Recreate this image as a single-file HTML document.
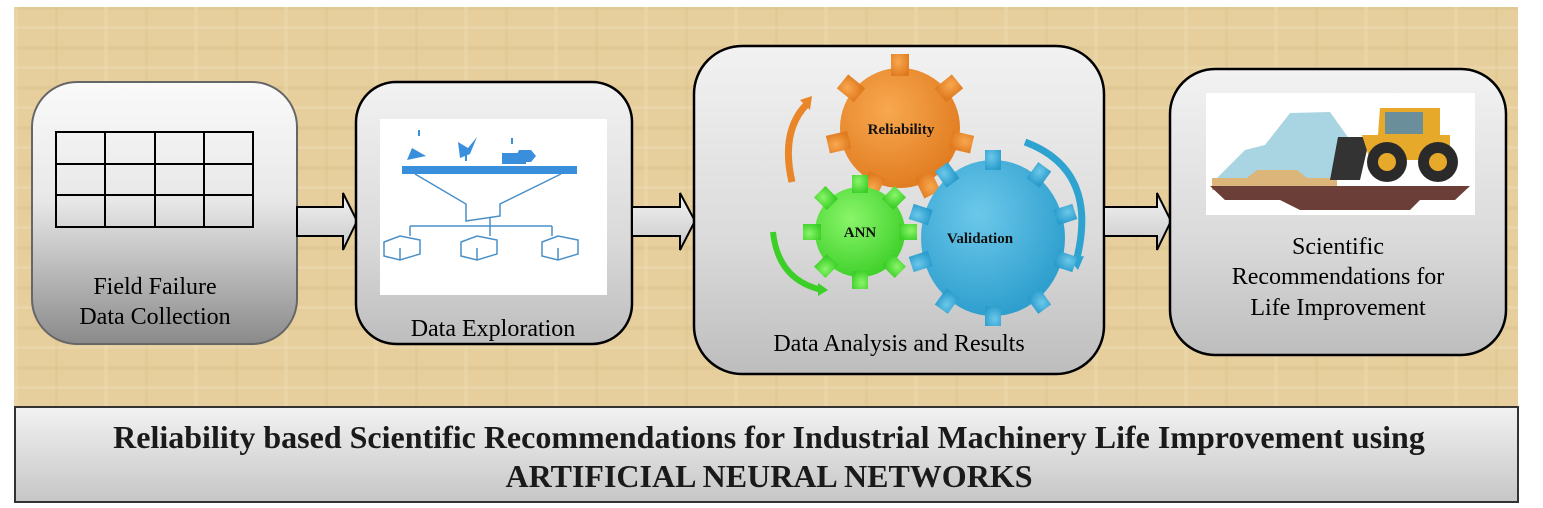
<!DOCTYPE html>
<html><head><meta charset="utf-8"><style>
body{margin:0;width:1543px;height:503px;background:#fff;overflow:hidden;font-family:"Liberation Serif",serif}
</style></head><body>
<svg width="1543" height="503" viewBox="0 0 1543 503" xmlns="http://www.w3.org/2000/svg">
<defs>
<linearGradient id="box1" x1="0" y1="0" x2="0" y2="1"><stop offset="0" stop-color="#fafafa"/><stop offset="0.45" stop-color="#e8e8e8"/><stop offset="1" stop-color="#8a8a8a"/></linearGradient>
<linearGradient id="box" x1="0" y1="0" x2="0" y2="1"><stop offset="0" stop-color="#f2f2f2"/><stop offset="0.6" stop-color="#dadada"/><stop offset="1" stop-color="#bdbdbd"/></linearGradient>
<linearGradient id="arr" x1="0" y1="0" x2="0" y2="1"><stop offset="0" stop-color="#f4f4f4"/><stop offset="1" stop-color="#c8c8c8"/></linearGradient>
<linearGradient id="ban" x1="0" y1="0" x2="0" y2="1"><stop offset="0" stop-color="#f2f2f2"/><stop offset="1" stop-color="#c6c6c6"/></linearGradient>
<pattern id="tex" width="90" height="40" patternUnits="userSpaceOnUse">
<rect width="90" height="40" fill="#e6cf9c"/>
<rect x="0" y="6" width="90" height="4" fill="#dcc48e" opacity="0.5"/>
<rect x="14" y="0" width="4" height="40" fill="#eddbb2" opacity="0.4"/>
<rect x="55" y="0" width="3" height="40" fill="#d9bf86" opacity="0.35"/>
<rect x="0" y="26" width="90" height="3" fill="#efdfba" opacity="0.4"/>
</pattern>
<radialGradient id="og" cx="0.4" cy="0.35" r="0.7"><stop offset="0" stop-color="#f8a850"/><stop offset="1" stop-color="#e07a1e"/></radialGradient>
<radialGradient id="gg" cx="0.4" cy="0.35" r="0.7"><stop offset="0" stop-color="#8af56a"/><stop offset="1" stop-color="#3ccf28"/></radialGradient>
<radialGradient id="bg" cx="0.4" cy="0.35" r="0.7"><stop offset="0" stop-color="#6cc8ea"/><stop offset="1" stop-color="#2a9ccc"/></radialGradient>
</defs>
<rect x="14" y="7" width="1504" height="400" fill="url(#tex)"/>

<!-- Box 1 -->
<rect x="32" y="82" width="265" height="262" rx="45" fill="url(#box1)" stroke="#666" stroke-width="2"/>
<g stroke="#000" stroke-width="2" fill="none">
<rect x="56" y="132" width="197" height="95"/>
<line x1="56" y1="164" x2="253" y2="164"/><line x1="56" y1="195" x2="253" y2="195"/>
<line x1="105" y1="132" x2="105" y2="227"/><line x1="155" y1="132" x2="155" y2="227"/><line x1="204" y1="132" x2="204" y2="227"/>
</g>
<text x="155" y="294" font-size="24" text-anchor="middle">Field Failure</text>
<text x="155" y="324" font-size="24" text-anchor="middle">Data Collection</text>

<!-- Arrow 1 -->
<path d="M297 207 H343 V193 L357 221 L343 250 V236 H297 Z" fill="url(#arr)" stroke="#000" stroke-width="2"/>

<!-- Box 2 -->
<rect x="356" y="82" width="276" height="262" rx="40" fill="url(#box)" stroke="#000" stroke-width="2.5"/>
<rect x="380" y="119" width="227" height="176" fill="#fff"/>
<g fill="#3a8fdc">
<path d="M407 160 L412 148 L426 156 Z"/><path d="M458 142 L468 148 L477 137 L470 154 L460 158 Z"/>
<rect x="502" y="153" width="24" height="11"/><path d="M519 150 h12 l5 6 l-5 6 h-12 l-3 -6 z"/>
<rect x="402" y="166" width="175" height="8"/>
<rect x="418" y="130" width="2" height="6"/><rect x="465" y="155" width="2" height="6"/><rect x="511" y="138" width="2" height="6"/>
</g>
<g stroke="#4a90c8" stroke-width="1.5" fill="none">
<path d="M415 174 L466 204 L466 221 L500 216 L500 204 L561 174"/>
<line x1="490" y1="218" x2="490" y2="226"/><path d="M410 226 H552 M410 226 V236 M490 226 V236 M552 226 V236"/>
<path d="M384 242 l16 -6 l20 4 v14 l-20 6 l-16 -4 z M400 248 v12"/>
<path d="M461 242 l16 -6 l20 4 v14 l-20 6 l-16 -4 z M477 248 v12"/>
<path d="M542 242 l16 -6 l20 4 v14 l-20 6 l-16 -4 z M558 248 v12"/>
</g>
<text x="493" y="336" font-size="24" text-anchor="middle">Data Exploration</text>

<!-- Arrow 2 -->
<path d="M632 207 H680 V193 L695 221 L680 250 V236 H632 Z" fill="url(#arr)" stroke="#000" stroke-width="2"/>

<!-- Box 3 -->
<rect x="694" y="46" width="410" height="328" rx="48" fill="url(#box)" stroke="#000" stroke-width="2.5"/>
<path d="M792 182 Q780 130 808 103" stroke="#e9862a" stroke-width="7" fill="none"/><path d="M800 100 L812 96 L810 110 Z" fill="#e9862a"/>
<path d="M1025 142 Q1100 170 1076 262" stroke="#2fa3cf" stroke-width="7" fill="none"/><path d="M1068 258 L1078 270 L1084 256 Z" fill="#2fa3cf"/>
<path d="M773 232 Q778 280 822 290" stroke="#3ccf28" stroke-width="6" fill="none"/><path d="M818 283 L828 290 L818 296 Z" fill="#3ccf28"/>
<g transform="translate(900,128)" fill="url(#og)">
<circle r="60"/>
<rect x="-9" y="-74" width="18" height="22"/><rect x="-9" y="-74" width="18" height="22" transform="rotate(51)"/><rect x="-9" y="-74" width="18" height="22" transform="rotate(103)"/><rect x="-9" y="-74" width="18" height="22" transform="rotate(154)"/><rect x="-9" y="-74" width="18" height="22" transform="rotate(206)"/><rect x="-9" y="-74" width="18" height="22" transform="rotate(257)"/><rect x="-9" y="-74" width="18" height="22" transform="rotate(309)"/>
</g>
<g transform="translate(860,232)" fill="url(#gg)">
<circle r="45"/>
<rect x="-8" y="-57" width="16" height="18"/><rect x="-8" y="-57" width="16" height="18" transform="rotate(45)"/><rect x="-8" y="-57" width="16" height="18" transform="rotate(90)"/><rect x="-8" y="-57" width="16" height="18" transform="rotate(135)"/><rect x="-8" y="-57" width="16" height="18" transform="rotate(180)"/><rect x="-8" y="-57" width="16" height="18" transform="rotate(225)"/><rect x="-8" y="-57" width="16" height="18" transform="rotate(270)"/><rect x="-8" y="-57" width="16" height="18" transform="rotate(315)"/>
</g>
<g transform="translate(993,238)" fill="url(#bg)">
<ellipse rx="72" ry="78"/>
<rect x="-8" y="-88" width="16" height="20"/><rect x="-8" y="-88" width="16" height="20" transform="rotate(36)"/><rect x="-8" y="-86" width="16" height="20" transform="rotate(72)"/><rect x="-8" y="-86" width="16" height="20" transform="rotate(108)"/><rect x="-8" y="-88" width="16" height="20" transform="rotate(144)"/><rect x="-8" y="-88" width="16" height="20" transform="rotate(180)"/><rect x="-8" y="-88" width="16" height="20" transform="rotate(216)"/><rect x="-8" y="-86" width="16" height="20" transform="rotate(252)"/><rect x="-8" y="-86" width="16" height="20" transform="rotate(288)"/><rect x="-8" y="-88" width="16" height="20" transform="rotate(324)"/>
</g>
<g font-weight="bold" font-size="15" text-anchor="middle" fill="#111">
<text x="901" y="134">Reliability</text>
<text x="860" y="237">ANN</text>
<text x="980" y="243">Validation</text>
</g>
<text x="899" y="351" font-size="24" text-anchor="middle">Data Analysis and Results</text>

<!-- Arrow 3 -->
<path d="M1104 207 H1157 V193 L1171 221 L1157 250 V236 H1104 Z" fill="url(#arr)" stroke="#000" stroke-width="2"/>

<!-- Box 4 -->
<rect x="1170" y="69" width="336" height="286" rx="45" fill="url(#box)" stroke="#000" stroke-width="2.5"/>
<rect x="1206" y="93" width="269" height="122" fill="#fff"/>
<path d="M1215 180 L1245 150 L1265 145 L1290 113 L1330 112 L1350 140 L1350 180 Z" fill="#a9d4e2"/>
<path d="M1212 178 h35 l10 -8 h40 l10 8 h30 v12 h-125 z" fill="#dcb57a"/>
<path d="M1210 186 H1470 L1455 200 H1420 L1410 210 H1300 L1280 200 H1225 Z" fill="#6b3f38"/>
<path d="M1338 137 H1370 L1360 180 H1330 Z" fill="#333"/>
<path d="M1362 135 H1440 V108 H1380 L1378 135 Z M1362 135 L1370 160 H1450 V135 Z" fill="#e7a92a"/>
<rect x="1385" y="112" width="38" height="22" fill="#6a8f9a"/>
<circle cx="1387" cy="162" r="20" fill="#2a2a2a"/><circle cx="1387" cy="162" r="9" fill="#e7a92a"/>
<circle cx="1438" cy="162" r="20" fill="#2a2a2a"/><circle cx="1438" cy="162" r="9" fill="#e7a92a"/>
<text x="1338" y="254" font-size="24" text-anchor="middle">Scientific</text>
<text x="1338" y="284" font-size="24" text-anchor="middle">Recommendations for</text>
<text x="1338" y="315" font-size="24" text-anchor="middle">Life Improvement</text>

<!-- banner -->
<rect x="15" y="407" width="1503" height="95" fill="url(#ban)" stroke="#333" stroke-width="2"/>
<g font-weight="bold" font-size="32" text-anchor="middle" fill="#1a1a1a">
<text x="769" y="448">Reliability based Scientific Recommendations for Industrial Machinery Life Improvement using</text>
<text x="769" y="487">ARTIFICIAL NEURAL NETWORKS</text>
</g>
</svg>
</body></html>
